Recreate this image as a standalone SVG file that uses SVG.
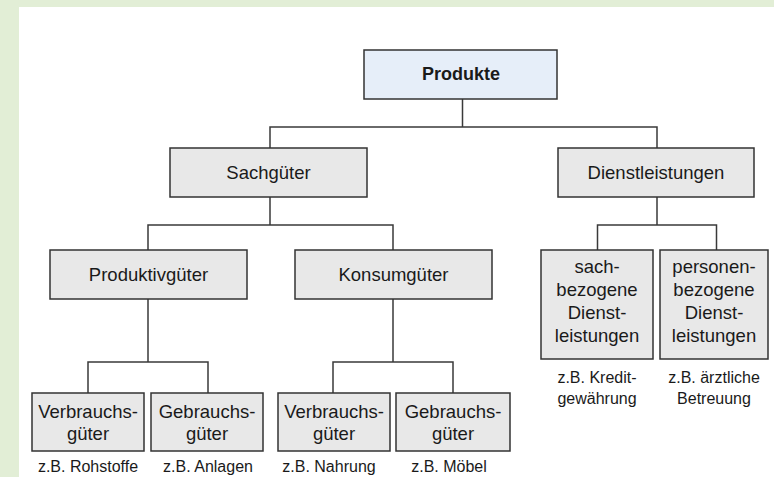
<svg xmlns="http://www.w3.org/2000/svg" width="774" height="477" viewBox="0 0 774 477">
<style>
.box{fill:#e8e8e8;stroke:#333;stroke-width:1.5}
.root{fill:#e6eef9;stroke:#333;stroke-width:1.5}
.t{font-family:"Liberation Sans",Arial,sans-serif;font-size:18.5px;fill:#1a1a1a;text-anchor:middle}
.b{font-weight:bold;font-size:18px}
.l{font-family:"Liberation Sans",Arial,sans-serif;font-size:16px;fill:#1a1a1a;text-anchor:middle}
.c{fill:none;stroke:#3a3a3a;stroke-width:1.5}
</style>
<rect x="0" y="0" width="774" height="477" fill="#e2eed6"/>
<rect x="19" y="7" width="755" height="470" fill="#ffffff"/>
<g id="connectors" class="c">
<path d="M462.5 99V127M270 148V127H657V148"/>
<path d="M270 197V225M148 250V225H393V250"/>
<path d="M657 197V225M597.5 250V225H716.5V250"/>
<path d="M148 299V362M88 393V362H208V393"/>
<path d="M393 299V362M333 393V362H453V393"/>
</g>
<g id="produkte"><rect class="root" x="364" y="50" width="193" height="49"/><text class="t b" x="461" y="80">Produkte</text></g>
<g id="sachgueter"><rect class="box" x="170" y="148" width="197" height="49"/><text class="t" x="268.5" y="178.5">Sachgüter</text></g>
<g id="dienstleistungen"><rect class="box" x="558" y="148" width="196" height="49"/><text class="t" x="656" y="178.5">Dienstleistungen</text></g>
<g id="produktivgueter"><rect class="box" x="50" y="250" width="197" height="49"/><text class="t" x="148.5" y="280.5">Produktivgüter</text></g>
<g id="konsumgueter"><rect class="box" x="295" y="250" width="197" height="49"/><text class="t" x="393.5" y="280.5">Konsumgüter</text></g>
<g id="verbrauch1"><rect class="box" x="32" y="393" width="112" height="58"/><text class="t" x="88" y="418">Verbrauchs-</text><text class="t" x="88" y="440">güter</text><text class="l" x="88" y="472">z.B. Rohstoffe</text></g>
<g id="gebrauch1"><rect class="box" x="151" y="393" width="112" height="58"/><text class="t" x="207" y="418">Gebrauchs-</text><text class="t" x="207" y="440">güter</text><text class="l" x="208" y="472">z.B. Anlagen</text></g>
<g id="verbrauch2"><rect class="box" x="278" y="393" width="112" height="58"/><text class="t" x="334" y="418">Verbrauchs-</text><text class="t" x="334" y="440">güter</text><text class="l" x="329" y="472">z.B. Nahrung</text></g>
<g id="gebrauch2"><rect class="box" x="396" y="393" width="114" height="58"/><text class="t" x="453" y="418">Gebrauchs-</text><text class="t" x="453" y="440">güter</text><text class="l" x="449" y="472">z.B. Möbel</text></g>
<g id="sachbezogen"><rect class="box" x="541" y="250" width="112" height="109"/><text class="t" x="597" y="273">sach-</text><text class="t" x="597" y="296">bezogene</text><text class="t" x="597" y="319">Dienst-</text><text class="t" x="597" y="342">leistungen</text><text class="l" x="597" y="383">z.B. Kredit-</text><text class="l" x="597" y="404">gewährung</text></g>
<g id="personenbezogen"><rect class="box" x="660" y="250" width="108" height="109"/><text class="t" x="714" y="273">personen-</text><text class="t" x="714" y="296">bezogene</text><text class="t" x="714" y="319">Dienst-</text><text class="t" x="714" y="342">leistungen</text><text class="l" x="714" y="383">z.B. ärztliche</text><text class="l" x="714" y="404">Betreuung</text></g>
</svg>
